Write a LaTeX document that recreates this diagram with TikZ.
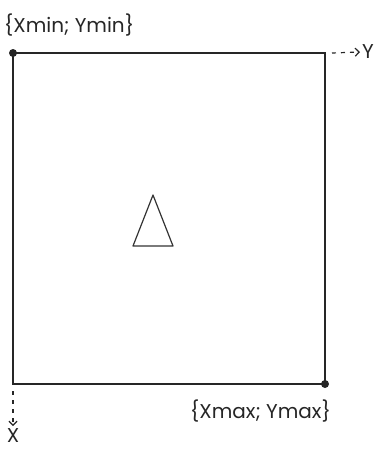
\documentclass[tikz,border=0pt]{standalone}
\usepackage{fontspec}
\setmainfont{Poppins}
\usetikzlibrary{arrows.meta}
\begin{document}
\begin{tikzpicture}[x=1pt,y=-1pt,
  frame/.style={line width=1.6pt,draw=black!85},
  corner/.style={circle,fill=black!85,inner sep=0pt,minimum size=8pt},
  lbl/.style={font=\fontsize{20}{23}\selectfont,text=black!85,inner sep=0pt},
  axis/.style={line width=1.2pt,draw=black!85,dash pattern=on 4pt off 5pt,-{Straight Barb[length=4pt,width=8pt,line width=1.2pt]}}
]
\useasboundingbox (0,0) rectangle (385,456);
\coordinate (tl) at (13,53);
\coordinate (br) at (325,384);
\draw[frame] (tl) rectangle (br);
\node[corner] (dtl) at (tl) {};
\node[corner] (dbr) at (br) {};
\node[lbl,anchor=base west] (minlbl) at (4,32) {\{Xmin; Ymin\}};
\node[lbl,anchor=base east] (maxlbl) at (331,418) {\{Xmax; Ymax\}};
\coordinate (ys) at (332,53);
\node[lbl,anchor=west] (Y) at (362,52) {Y};
\draw[axis] (ys) -- ([xshift=-2pt]Y.west);
\coordinate (xs) at (13,391);
\node[lbl,anchor=north] (X) at (13,428) {X};
\draw[axis] (xs) -- ([yshift=2pt]X.north);
\coordinate (ta) at (153,195);
\coordinate (tb1) at (133,246);
\coordinate (tb2) at (173,246);
\draw[line width=1.2pt,draw=black!80,line join=round] (ta) -- (tb1) -- (tb2) -- cycle;
\end{tikzpicture}
\end{document}
